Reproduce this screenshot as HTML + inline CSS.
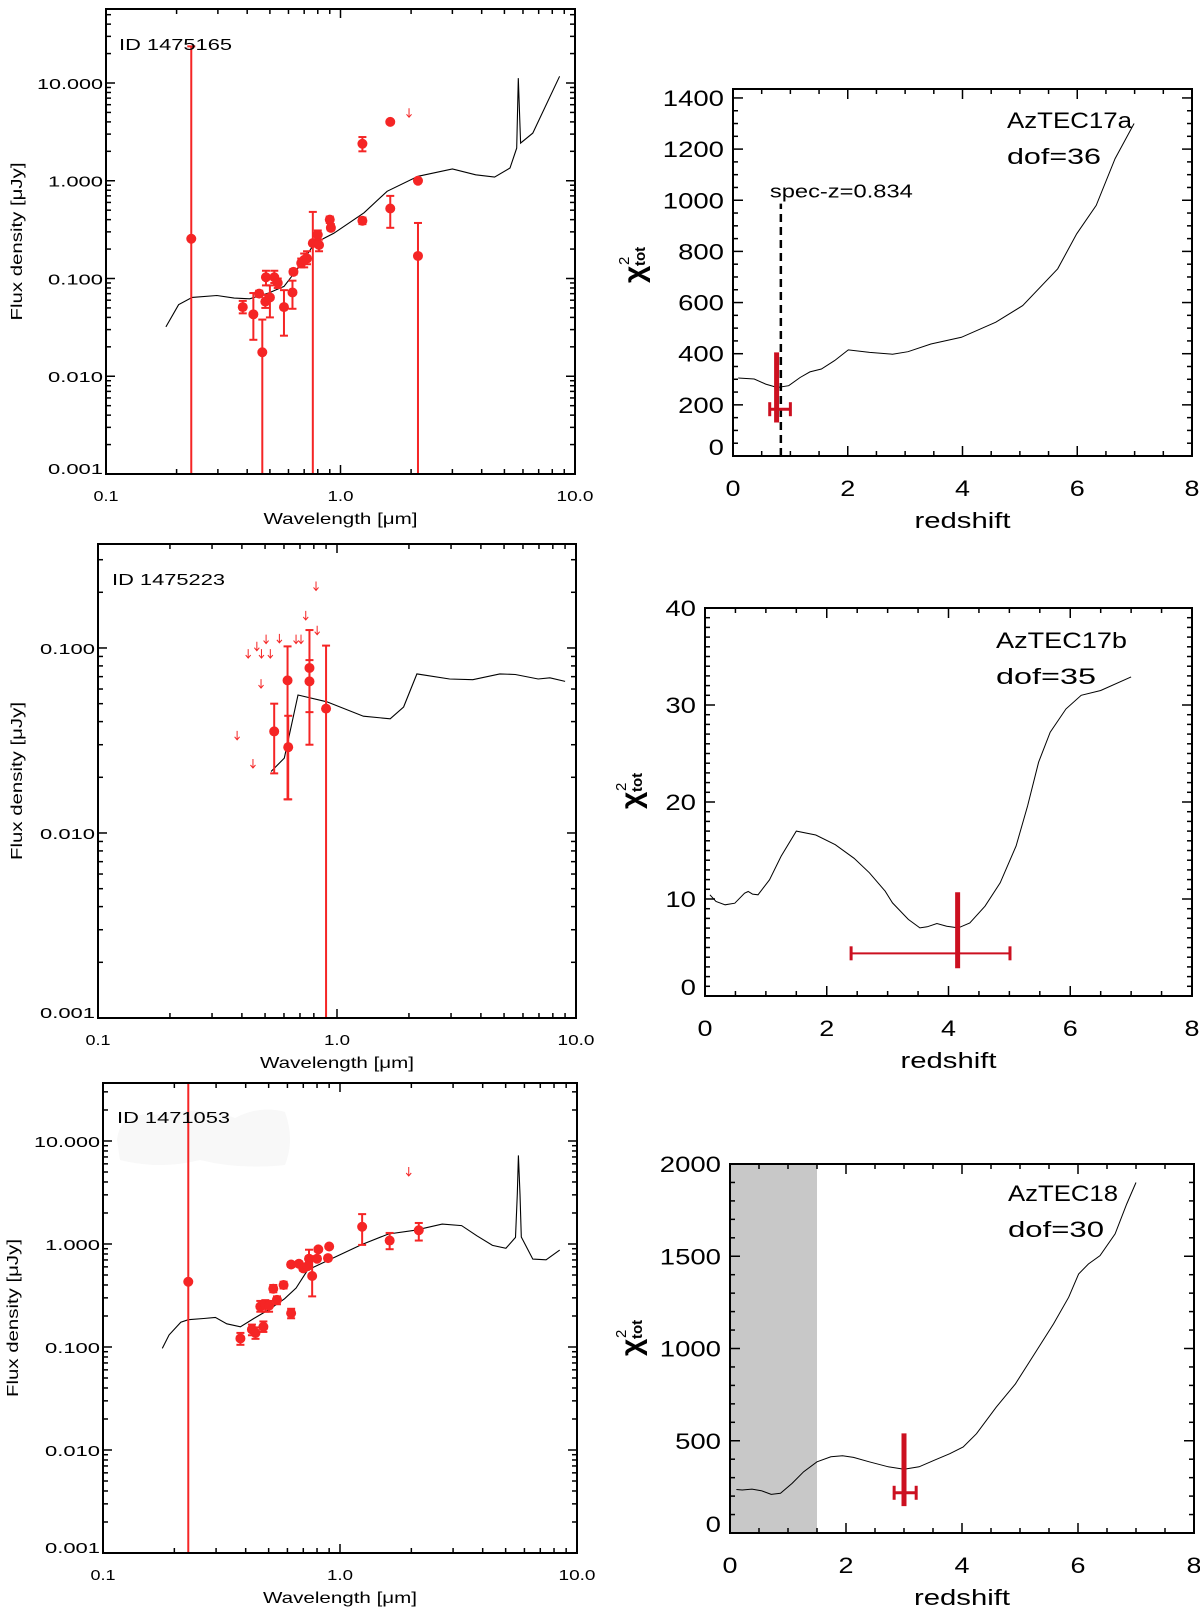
<!DOCTYPE html>
<html><head><meta charset="utf-8"><style>
html,body{margin:0;padding:0;background:#fff;}
svg{display:block;font-family:"Liberation Sans",sans-serif;}
</style></head><body>
<svg id="fig" width="1200" height="1611" viewBox="0 0 1200 1611"></svg>
<script>
// ---------- SED panel 1 (ID 1475165) ----------
const sed1ModelLam=[0.180,0.204,0.233,0.297,0.352,0.410,0.494,0.574,0.667,0.776,0.936,1.26,1.58,2.14,3.0,3.77,4.54,5.28,5.64,5.73,5.86,6.61,8.6];
const sed1ModelFlux=[0.032,0.054,0.064,0.067,0.063,0.062,0.071,0.083,0.133,0.23,0.29,0.47,0.78,1.11,1.32,1.15,1.09,1.35,2.16,11.2,2.43,3.07,11.7];
const sed1PtLam=[0.231,0.383,0.425,0.464,0.45,0.481,0.478,0.50,0.522,0.54,0.574,0.624,0.63,0.68,0.70,0.72,0.762,0.80,0.81,0.90,0.91,1.24,1.24,1.63,1.63,2.14,2.14];
const sed1PtFlux=[0.255,0.051,0.043,0.0176,0.07,0.103,0.058,0.064,0.103,0.09,0.051,0.072,0.117,0.144,0.155,0.16,0.23,0.28,0.22,0.40,0.33,2.39,0.39,4.0,0.52,1.0,0.17];
const sed1PtLo=[0.0005,0.044,0.0236,0.0005,0.065,0.085,0.05,0.04,0.09,0.08,0.026,0.049,0.11,0.13,0.13,0.14,0.0005,0.25,0.19,0.37,0.31,2.0,0.36,3.9,0.33,0.97,0.0005];
const sed1PtHi=[23.7,0.059,0.071,0.038,0.075,0.12,0.068,0.085,0.12,0.1,0.076,0.095,0.125,0.16,0.18,0.19,0.48,0.31,0.25,0.43,0.36,2.8,0.42,4.1,0.70,1.03,0.37];
const sed1UlLam=[1.96];
const sed1UlFlux=[4.9];
// ---------- SED panel 2 (ID 1475223) ----------
const sed2ModelLam=[0.530,0.602,0.687,0.906,1.29,1.67,1.90,2.16,2.96,3.70,4.80,5.57,6.95,7.78,9.0];
const sed2ModelFlux=[0.0215,0.0254,0.0557,0.0512,0.0428,0.0414,0.048,0.0724,0.068,0.0674,0.0724,0.0719,0.068,0.069,0.066];
const sed2PtLam=[0.546,0.621,0.625,0.767,0.767,0.90];
const sed2PtFlux=[0.0354,0.0668,0.0291,0.078,0.066,0.047];
const sed2PtLo=[0.021,0.0152,0.0152,0.045,0.030,0.0005];
const sed2PtHi=[0.050,0.102,0.043,0.086,0.125,0.103];
const sed2UlLam=[0.382,0.425,0.445,0.462,0.483,0.481,0.505,0.526,0.574,0.674,0.707,0.740,0.817,0.826];
const sed2UlFlux=[0.0335,0.0927,0.0236,0.1016,0.0927,0.0638,0.111,0.0927,0.112,0.111,0.111,0.149,0.215,0.124];
// ---------- SED panel 3 (ID 1471053) ----------
const sed3ModelLam=[0.178,0.190,0.213,0.229,0.266,0.298,0.333,0.380,0.433,0.502,0.583,0.653,0.731,0.787,0.914,1.23,1.60,2.08,2.70,3.26,3.78,4.40,5.01,5.50,5.60,5.66,5.75,5.82,6.51,7.41,8.45];
const sed3ModelFlux=[0.097,0.131,0.174,0.184,0.189,0.194,0.168,0.157,0.189,0.231,0.294,0.374,0.560,0.606,0.713,0.984,1.25,1.36,1.56,1.51,1.20,0.968,0.908,1.16,3.04,7.24,3.04,1.17,0.713,0.703,0.873];
const sed3PtLam=[0.229,0.380,0.425,0.44,0.475,0.461,0.484,0.502,0.523,0.542,0.578,0.622,0.622,0.671,0.70,0.74,0.763,0.73,0.81,0.80,0.89,0.90,1.24,1.62,2.15];
const sed3PtFlux=[0.43,0.121,0.148,0.137,0.157,0.247,0.256,0.252,0.368,0.287,0.40,0.213,0.632,0.643,0.58,0.72,0.489,0.61,0.887,0.72,0.73,0.946,1.47,1.08,1.36];
const sed3PtLo=[0.0005,0.105,0.13,0.12,0.14,0.22,0.22,0.22,0.34,0.26,0.37,0.19,0.60,0.61,0.55,0.68,0.31,0.58,0.85,0.69,0.70,0.91,0.98,0.89,1.08];
const sed3PtHi=[40,0.137,0.165,0.155,0.177,0.28,0.285,0.28,0.40,0.31,0.43,0.235,0.665,0.675,0.61,0.88,0.76,0.64,0.92,0.75,0.76,0.98,1.95,1.28,1.6];
const sed3UlLam=[1.95];
const sed3UlFlux=[5.0];
// ---------- chi2 panels ----------
const chi1Z=[0.09,0.37,0.57,0.77,0.97,1.17,1.34,1.54,1.77,2.01,2.38,2.78,3.05,3.45,3.98,4.58,5.05,5.66,5.99,6.33,6.66,6.99];
const chi1Val=[305,301,281,268,275,307,329,340,373,415,405,398,408,438,464,523,588,732,869,980,1163,1300];
const chi1Best=[0.76];const chi1BestLo=[0.64];const chi1BestHi=[1.0];
const chi1BarRange=[131,405];const chi1BarY=[183];
const chi1SpecZ=[0.834];const chi1SpecTop=[987];
const chi2Z=[0.08,0.18,0.33,0.49,0.65,0.71,0.78,0.87,1.06,1.25,1.50,1.82,2.14,2.45,2.70,2.96,3.08,3.34,3.53,3.65,3.81,3.97,4.16,4.35,4.60,4.85,5.11,5.30,5.48,5.67,5.93,6.18,6.50,7.00];
const chi2Val=[10.43,9.74,9.40,9.57,10.6,10.77,10.5,10.43,11.98,14.4,17.0,16.6,15.6,14.2,12.7,10.8,9.6,7.9,7.02,7.13,7.47,7.2,7.02,7.54,9.26,11.67,15.46,19.6,24.1,27.2,29.6,31.0,31.5,32.9];
const chi2Best=[4.15];const chi2BestLo=[2.40];const chi2BestHi=[5.01];
const chi2BarRange=[2.86,10.7];const chi2BarY=[4.4];
const chi3Z=[0.11,0.21,0.38,0.54,0.71,0.87,1.07,1.27,1.50,1.74,1.94,2.13,2.40,2.73,3.00,3.26,3.53,3.79,4.02,4.25,4.59,4.92,5.25,5.58,5.84,6.01,6.18,6.38,6.64,6.84,7.00];
const chi3Val=[236,233,238,229,209,215,269,332,386,413,419,410,386,359,345,359,395,430,466,538,682,808,971,1134,1278,1404,1458,1503,1621,1783,1900];
const chi3Best=[3.0];const chi3BestLo=[2.83];const chi3BestHi=[3.21];
const chi3BarRange=[146,540];const chi3BarY=[218];
const chi3Excluded=[0,1.5];

const NS='http://www.w3.org/2000/svg';
const svg=document.getElementById('fig');
function mk(tag,attrs,parent){const e=document.createElementNS(NS,tag);for(const k in attrs)e.setAttribute(k,attrs[k]);parent.appendChild(e);return e;}
function txt(parent,s,attrs){const e=mk('text',attrs,parent);e.textContent=s;return e;}
const RED='#f52525', DRED='#cc1020';

function sedPanel(name,P,mLam,mFlux,pLam,pFlux,pLo,pHi,uLam,uFlux,idText,idPos){
  const g=mk('g',{},svg);
  
  
  const sx=l=>P.x0+(Math.log10(l)+1)/2*(P.x1-P.x0);
  const sy=f=>P.y1-(Math.log10(f)+3)/(P.ytop+3)*(P.y1-P.y0);
  const cid=name+'-clip';
  const cp=mk('clipPath',{id:cid},g);
  mk('rect',{x:P.x0,y:P.y0,width:P.x1-P.x0,height:P.y1-P.y0},cp);
  for(let d=-1;d<=1;d++){for(let m=1;m<=9;m++){const v=m*Math.pow(10,d);if(v>10.0001)break;const x=sx(v);const L=m===1?9:5;
    const t1=mk('line',{x1:x,x2:x,y1:P.y1,y2:P.y1-L,stroke:'#000','stroke-width':1.5},g);
    
    
    const t2=mk('line',{x1:x,x2:x,y1:P.y0,y2:P.y0+L,stroke:'#000','stroke-width':1.5},g);
    
    }}
  for(let d=-3;d<=2;d++){for(let m=1;m<=9;m++){const v=m*Math.pow(10,d);if(Math.log10(v)>P.ytop)break;const y=sy(v);const L=m===1?9:5;
    const t1=mk('line',{x1:P.x0,x2:P.x0+L,y1:y,y2:y,stroke:'#000','stroke-width':1.5},g);
    
    
    const t2=mk('line',{x1:P.x1,x2:P.x1-L,y1:y,y2:y,stroke:'#000','stroke-width':1.5},g);
    
    }}
  const xl=[['0.1',0.1,25],['1.0',1,26],['10.0',10,37]];
  xl.forEach(a=>{const t=txt(g,a[0],{x:sx(a[1]),y:P.y1+27,'font-size':15,'text-anchor':'middle',textLength:a[2],lengthAdjust:'spacingAndGlyphs'});
    
    });
  for(let d=-3;d<=1;d++){if(d>P.ytop)break;const y=sy(Math.pow(10,d));const s=Math.pow(10,d).toFixed(3);
    const t=txt(g,s,{x:P.x0-3,y:d===-3?y:y+6,'font-size':15,'text-anchor':'end',textLength:s.length*11,lengthAdjust:'spacingAndGlyphs'});
    
    }
  const xt=txt(g,'Wavelength [\u03bcm]',{x:(P.x0+P.x1)/2,y:P.y1+50,'font-size':16,'text-anchor':'middle',textLength:154,lengthAdjust:'spacingAndGlyphs'});
  
  
  const ym=(P.y0+P.y1)/2;
  const yt=txt(g,'Flux density [\u03bcJy]',{x:0,y:0,'font-size':16,'text-anchor':'middle',transform:`translate(${P.ylx},${ym}) rotate(-90)`,textLength:158,lengthAdjust:'spacingAndGlyphs'});
  
  
  const dg=mk('g',{'clip-path':`url(#${cid})`},g);
  if(P.blob){const b=mk('path',{d:P.blob,fill:'#f8f8f8'},dg);
    
    }
  const idt=txt(g,idText,{x:idPos[0],y:idPos[1],'font-size':16,textLength:113,lengthAdjust:'spacingAndGlyphs'});
  
  
  const pl=mk('polyline',{points:mLam.map((l,i)=>sx(l).toFixed(1)+','+sy(mFlux[i]).toFixed(1)).join(' '),fill:'none',stroke:'#000','stroke-width':1.1},dg);
  
  
  pLam.forEach((l,i)=>{const x=sx(l);
    const e=mk('line',{x1:x,x2:x,y1:sy(pLo[i]),y2:sy(pHi[i]),stroke:RED,'stroke-width':2},dg);
    
    
    [pLo[i],pHi[i]].forEach(v=>{const c=mk('line',{x1:x-4,x2:x+4,y1:sy(v),y2:sy(v),stroke:RED,'stroke-width':2},dg);
      
      });
    const p=mk('circle',{cx:x,cy:sy(pFlux[i]),r:5,fill:RED},dg);
    
    });
  uLam.forEach((l,i)=>{const x=sx(l),y=sy(uFlux[i]);
    const a=mk('path',{d:`M${x},${y-5}V${y+4}M${x-2.5},${y+1}L${x},${y+4}L${x+2.5},${y+1}`,fill:'none',stroke:RED,'stroke-width':1},dg);
    
    });
  const fr=mk('rect',{x:P.x0,y:P.y0,width:P.x1-P.x0,height:P.y1-P.y0,fill:'none',stroke:'#000','stroke-width':2},g);
  
  
}

function chiPanel(name,P,zs,vals,best,bLo,bHi,barR,barY,title,dof,extra){
  const g=mk('g',{},svg);
  
  
  const sx=z=>P.x0+z/8*(P.x1-P.x0);
  const sy=v=>P.y1-v/P.ymax*(P.y1-P.y0);
  if(extra&&extra.excl){const r=mk('rect',{x:sx(extra.excl[0]),y:P.y0,width:sx(extra.excl[1])-sx(extra.excl[0]),height:P.y1-P.y0,fill:'#c8c8c8'},g);
    
    }
  for(let z=0;z<=8.001;z+=0.5){const x=sx(z);const L=(Math.abs(z%2)<1e-6)?10:5;
    const t1=mk('line',{x1:x,x2:x,y1:P.y1,y2:P.y1-L,stroke:'#000','stroke-width':1.5},g);
    
    
    const t2=mk('line',{x1:x,x2:x,y1:P.y0,y2:P.y0+L,stroke:'#000','stroke-width':1.5},g);
    
    }
  for(let k=0;k*P.minor<=P.ymax;k++){const v=k*P.minor;const y=sy(v);const maj=Math.abs(v/P.major-Math.round(v/P.major))<1e-6;const L=maj?10:5;
    const t1=mk('line',{x1:P.x0,x2:P.x0+L,y1:y,y2:y,stroke:'#000','stroke-width':1.5},g);
    
    
    const t2=mk('line',{x1:P.x1,x2:P.x1-L,y1:y,y2:y,stroke:'#000','stroke-width':1.5},g);
    
    
    if(maj){const s=String(Math.round(v));
      const t=txt(g,s,{x:P.x0-9,y:v===0?y-1:y+8,'font-size':22,'text-anchor':'end',textLength:s.length*15.3,lengthAdjust:'spacingAndGlyphs'});
      
      }}
  for(let z=0;z<=8;z+=2){const t=txt(g,String(z),{x:sx(z),y:P.y1+40,'font-size':22,'text-anchor':'middle',textLength:15,lengthAdjust:'spacingAndGlyphs'});
    
    }
  const xt=txt(g,'redshift',{x:(P.x0+P.x1)/2,y:P.y1+72,'font-size':22,'text-anchor':'middle',textLength:96,lengthAdjust:'spacingAndGlyphs'});
  
  
  const yg=mk('g',{transform:`translate(${P.ylx},${P.yly}) rotate(-90)`},g);
  
  
  txt(yg,'\u03c7',{x:-16,y:10,'font-size':30,'font-weight':'bold'});
  txt(yg,'2',{x:2,y:-5,'font-size':15});
  txt(yg,'tot',{x:1,y:11,'font-size':15,'font-weight':'bold'});
  const pl=mk('polyline',{points:zs.map((z,i)=>sx(z).toFixed(1)+','+sy(vals[i]).toFixed(1)).join(' '),fill:'none',stroke:'#000','stroke-width':1},g);
  
  
  if(extra&&extra.specz){const x=sx(extra.specz[0]);
    const d=mk('line',{x1:x,x2:x,y1:P.y1,y2:sy(extra.specTop[0]),stroke:'#000','stroke-width':2.5,'stroke-dasharray':'8,5'},g);
    
    
    const t=txt(g,'spec-z=0.834',{x:x-11,y:sy(extra.specTop[0])-6,'font-size':18,textLength:143,lengthAdjust:'spacingAndGlyphs'});
    
    }
  const bx=sx(best[0]);
  const hw=P.hbw||2;
  const h=mk('line',{x1:sx(bLo[0]),x2:sx(bHi[0]),y1:sy(barY[0]),y2:sy(barY[0]),stroke:DRED,'stroke-width':hw},g);
  
  
  [bLo[0],bHi[0]].forEach(z=>{const c=mk('line',{x1:sx(z),x2:sx(z),y1:sy(barY[0])-7,y2:sy(barY[0])+7,stroke:DRED,'stroke-width':3},g);
    
    });
  const v=mk('line',{x1:bx,x2:bx,y1:sy(barR[0]),y2:sy(barR[1]),stroke:DRED,'stroke-width':5},g);
  
  
  const fr=mk('rect',{x:P.x0,y:P.y0,width:P.x1-P.x0,height:P.y1-P.y0,fill:'none',stroke:'#000','stroke-width':2},g);
  
  
  const t1=txt(g,title,{x:P.tx,y:P.ty,'font-size':22,textLength:P.tw,lengthAdjust:'spacingAndGlyphs'});
  
  
  const t2=txt(g,dof,{x:P.tx,y:P.ty+36,'font-size':22,textLength:P.dw,lengthAdjust:'spacingAndGlyphs'});
  
  
}

sedPanel('sed-panel-1475165',{x0:106,x1:575,y0:9,y1:474,ytop:1.757,ylx:22},sed1ModelLam,sed1ModelFlux,sed1PtLam,sed1PtFlux,sed1PtLo,sed1PtHi,sed1UlLam,sed1UlFlux,'ID 1475165',[119,50]);
sedPanel('sed-panel-1475223',{x0:98,x1:576,y0:544,y1:1018,ytop:-0.438,ylx:22},sed2ModelLam,sed2ModelFlux,sed2PtLam,sed2PtFlux,sed2PtLo,sed2PtHi,sed2UlLam,sed2UlFlux,'ID 1475223',[112,585]);
sedPanel('sed-panel-1471053',{x0:103,x1:577,y0:1083,y1:1553,ytop:1.563,ylx:18,blob:'M117,1140 Q120,1110 160,1115 Q200,1105 235,1118 Q260,1105 285,1112 Q295,1140 285,1165 Q240,1170 200,1160 Q160,1170 120,1160 Z'},sed3ModelLam,sed3ModelFlux,sed3PtLam,sed3PtFlux,sed3PtLo,sed3PtHi,sed3UlLam,sed3UlFlux,'ID 1471053',[117,1123]);

chiPanel('chi2-panel-aztec17a',{x0:733,x1:1192,y0:89,y1:456,ymax:1435,major:200,minor:50,ylx:634,yly:267,tx:1007,ty:128,tw:125,dw:94,hbw:3},chi1Z,chi1Val,chi1Best,chi1BestLo,chi1BestHi,chi1BarRange,chi1BarY,'AzTEC17a','dof=36',{specz:chi1SpecZ,specTop:chi1SpecTop});
chiPanel('chi2-panel-aztec17b',{x0:705,x1:1192,y0:608,y1:996,ymax:40,major:10,minor:1,ylx:631,yly:793,tx:996,ty:648,tw:131,dw:100,hbw:2},chi2Z,chi2Val,chi2Best,chi2BestLo,chi2BestHi,chi2BarRange,chi2BarY,'AzTEC17b','dof=35',null);
chiPanel('chi2-panel-aztec18',{x0:730,x1:1194,y0:1164,y1:1533,ymax:2000,major:500,minor:100,ylx:631,yly:1340,tx:1008,ty:1201,tw:110,dw:96,hbw:3},chi3Z,chi3Val,chi3Best,chi3BestLo,chi3BestHi,chi3BarRange,chi3BarY,'AzTEC18','dof=30',{excl:chi3Excluded});
</script>
</body></html>
